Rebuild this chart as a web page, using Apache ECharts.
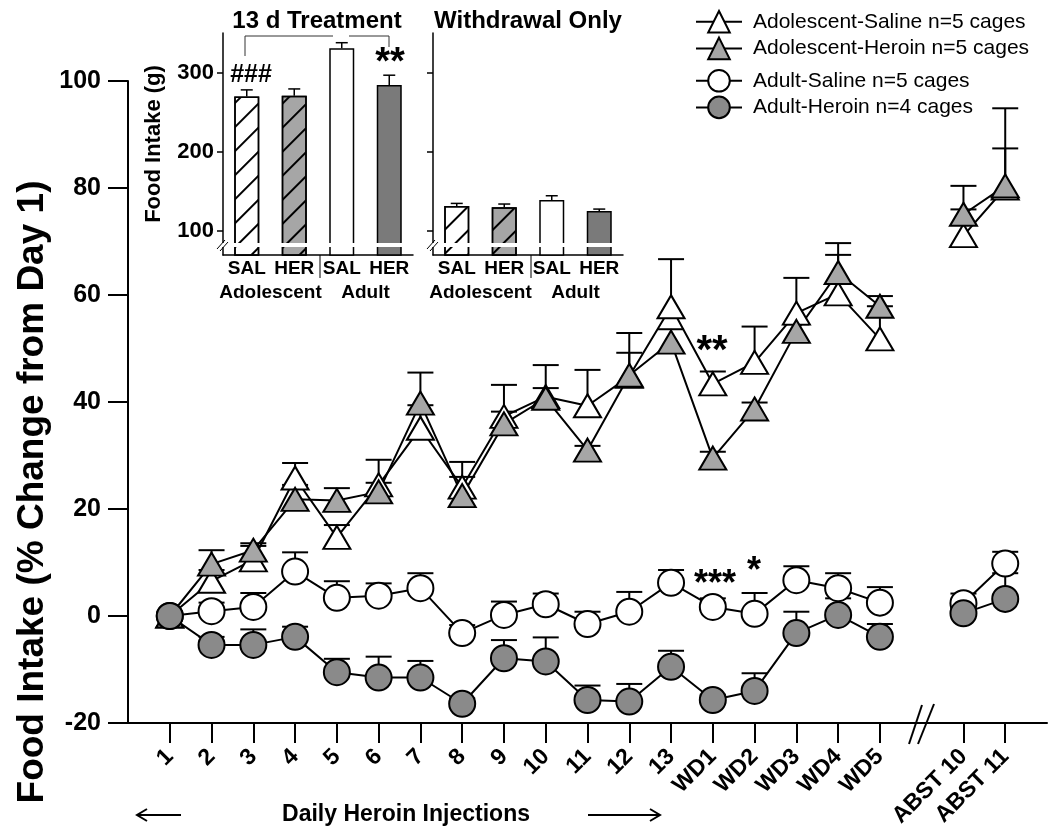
<!DOCTYPE html>
<html>
<head>
<meta charset="utf-8">
<script src="https://cdn.jsdelivr.net/npm/echarts@6/dist/echarts.min.js"></script>
<style>
  html, body { margin: 0; padding: 0; background: #fff; }
  #main { width: 1050px; height: 838px; }
</style>
</head>
<body>
<div id="main"></div>
<script>
var FONT = 'Liberation Sans, Arial, sans-serif';

// main plot: x labels
var dayLabels = ['1', '2', '3', '4', '5', '6', '7', '8', '9', '10', '11', '12', '13', 'WD1', 'WD2', 'WD3', 'WD4', 'WD5'];
var abstLabels = ['ABST 10', 'ABST 11'];

// % change from day 1 (mean) and upper error
var adolSal     = [0, 6.5, 10.5, 25.8, 14.7, 24.5, 35.1, 24.1, 37.3, 41, 39.3, 44.8, 57.8, 43.4, 47.4, 56.6, 60.2, 51.8, 71.1, 80];
var adolSalErr  = [0, 2.1, 2.6, 2.8, 2.3, 4.7, 4.3, 4.7, 5.9, 5.9, 6.7, 8.1, 8.9, 2.3, 6.7, 6.6, 7.3, 6.1, 4.9, 14.9];
var adolHer     = [0, 9.7, 12.3, 21.8, 21.6, 23.2, 39.8, 22.5, 35.9, 40.7, 31, 45, 51.2, 29.5, 38.7, 53.2, 64.2, 57.9, 75.1, 80.4];
var adolHerErr  = [0, 2.6, 1.3, 2.7, 2.3, 1.7, 5.7, 3.5, 2.3, 1.9, 0.8, 4.2, 2.4, 1.2, 1.2, 1.3, 5.5, 1.9, 5.3, 7];
var adultSal    = [0, 0.9, 1.7, 8.3, 3.4, 3.8, 5.2, -3.2, 0.2, 2.2, -1.5, 0.8, 6.2, 1.7, 0.4, 6.7, 5.2, 2.5, 2.4, 9.8];
var adultSalErr = [0, 1.6, 2.6, 3.6, 3.1, 2.3, 2.8, 1.5, 2.5, 2, 2.3, 3.7, 2.4, 1.6, 3.9, 2.6, 2.8, 2.9, 1.8, 2.2];
var adultHer    = [0, -5.4, -5.4, -3.9, -10.5, -11.5, -11.5, -16.4, -7.9, -8.5, -15.7, -16, -9.5, -15.7, -14, -3.2, 0.2, -3.9, 0.5, 3.2];
var adultHerErr = [0, 1.5, 2.9, 1.9, 2.5, 3.9, 3.1, 1, 3.4, 4.5, 2.7, 3.3, 3, 1, 3.3, 4, 3.1, 2.4, 1, 4.8];

// inset: total food intake (g)
var groups = ['SAL', 'HER', 'SAL', 'HER'];
var ages = ['Adolescent', 'Adult'];
var treatMean = [270.4, 271.6, 331.6, 285.2];
var treatErr  = [8.5, 8.5, 7.1, 12.3];
var wdMean    = [131.6, 130, 139.2, 125.3];
var wdErr     = [3.4, 4.2, 5.5, 2.5];
var insetTicks = [100, 200, 300];

var names = ['Adolescent-Saline n=5 cages', 'Adolescent-Heroin n=5 cages', 'Adult-Saline n=5 cages', 'Adult-Heroin n=4 cages'];

// category axis with one blank slot at each end and one for the axis break
var cats = [''].concat(dayLabels, [''], abstLabels, ['']);
function pos(i) { return i < dayLabels.length ? i + 1 : i + 2; }
function pad(vals) {
    var out = cats.map(function () { return null; });
    vals.forEach(function (v, i) { out[pos(i)] = v; });
    return out;
}
function errData(vals, errs) {
    return vals.map(function (v, i) { return [pos(i), v, errs[i]]; })
        .filter(function (d) { return d[2] > 0; });
}

function errRender(half, lw) {
    return function (params, api) {
        var x = api.value(0), m = api.value(1), e = api.value(2);
        var p0 = api.coord([x, m]);
        var p1 = api.coord([x, m + e]);
        var st = { stroke: '#000', lineWidth: lw };
        return {
            type: 'group',
            children: [
                { type: 'line', shape: { x1: p0[0], y1: p0[1], x2: p1[0], y2: p1[1] }, style: st },
                { type: 'line', shape: { x1: p1[0] - half, y1: p1[1], x2: p1[0] + half, y2: p1[1] }, style: st }
            ]
        };
    };
}

function errSeries(vals, errs) {
    return {
        type: 'custom', xAxisIndex: 0, yAxisIndex: 0,
        renderItem: errRender(13, 2),
        encode: { x: 0, y: 1 },
        data: errData(vals, errs),
        silent: true
    };
}

function lineSeries(name, vals, symbol, fill) {
    return {
        name: name, type: 'line', xAxisIndex: 0, yAxisIndex: 0,
        data: pad(vals),
        symbol: symbol,
        symbolSize: symbol === 'triangle' ? [27, 23] : 26,
        showSymbol: true,
        connectNulls: false,
        lineStyle: { color: '#000', width: 2 },
        itemStyle: { color: fill, borderColor: '#000', borderWidth: 2 },
        emphasis: { disabled: true }
    };
}

var hatch = {
    symbol: 'rect', symbolSize: 1,
    dashArrayX: [1, 0], dashArrayY: [1.5, 15],
    rotation: -Math.PI / 4, color: '#000'
};
var barFill = ['#ffffff', '#a6a6a6', '#ffffff', '#7a7a7a'];
var barHatch = [true, true, false, false];

function barSeries(vals, axis) {
    return {
        type: 'bar', xAxisIndex: axis, yAxisIndex: axis === 1 ? 1 : 2,
        barWidth: 25,
        data: vals.map(function (v, i) {
            var st = { color: barFill[i], borderColor: '#000', borderWidth: 1.5 };
            if (barHatch[i]) st.decal = hatch;
            return { value: v, itemStyle: st };
        }),
        silent: true
    };
}
function barErrSeries(vals, errs, axis) {
    return {
        type: 'custom', xAxisIndex: axis, yAxisIndex: axis === 1 ? 1 : 2,
        renderItem: errRender(6, 1.5),
        encode: { x: 0, y: 1 },
        data: vals.map(function (v, i) { return [i, v, errs[i]]; }),
        silent: true, z: 3
    };
}

var chart = echarts.init(document.getElementById('main'));

var labelFont = { color: '#000', fontFamily: FONT, fontWeight: 'bold' };
function txt(x, y, s, size, extra) {
    var o = {
        type: 'text', x: x, y: y, z: 100,
        style: { text: s, fontSize: size, fontWeight: 'bold', fontFamily: FONT, fill: '#000', align: 'center', verticalAlign: 'middle' }
    };
    if (extra) Object.assign(o, extra);
    return o;
}
function seg(x1, y1, x2, y2, w) {
    return { type: 'line', z: 100, shape: { x1: x1, y1: y1, x2: x2, y2: y2 }, style: { stroke: '#000', lineWidth: w || 2 } };
}

var insetX = function (grid, dataArr) {
    return {
        type: 'category', gridIndex: grid, data: dataArr,
        axisLine: { onZero: false, lineStyle: { color: '#000', width: 1.5 } },
        axisTick: { show: false },
        axisLabel: Object.assign({ fontSize: 19, margin: 4, interval: 0 }, labelFont)
    };
};
var insetAge = function (grid) {
    return {
        type: 'category', gridIndex: grid, data: ages, position: 'bottom', offset: 24,
        axisLine: { show: false, onZero: false }, axisTick: { show: false },
        axisLabel: Object.assign({ fontSize: 19, margin: 4, interval: 0 }, labelFont)
    };
};
var insetY = function (grid, showLabel) {
    var y = {
        type: 'value', gridIndex: grid, min: 69.6, max: 351,
        splitLine: { show: false },
        axisLine: { show: true, lineStyle: { color: '#000', width: 1.5 } },
        axisTick: { show: true, length: 6, customValues: insetTicks, lineStyle: { color: '#000', width: 1.5 } },
        axisLabel: Object.assign({ show: showLabel, fontSize: 22, margin: 9, customValues: insetTicks }, labelFont)
    };
    if (showLabel) {
        y.name = 'Food Intake (g)';
        y.nameLocation = 'middle';
        y.nameGap = 58;
        y.nameTextStyle = { fontSize: 22, fontWeight: 'bold', fontFamily: FONT, color: '#000' };
    }
    return y;
};

var legendBase = {
    orient: 'vertical', left: 690, itemWidth: 46, itemHeight: 27, selectedMode: false,
    textStyle: { fontSize: 21, color: '#000', fontFamily: FONT, padding: [0, 0, 0, 6] }
};

var option = {
    animation: false,
    backgroundColor: '#fff',
    grid: [
        { left: 128, right: 3, top: 81, bottom: 115 },
        { left: 223, top: 33, width: 190, height: 222 },
        { left: 433, top: 33, width: 190, height: 222 }
    ],
    legend: [
        Object.assign({}, legendBase, { data: names.slice(0, 2), top: 5, itemGap: 3 }),
        Object.assign({}, legendBase, { data: names.slice(2), top: 64, itemGap: 3 })
    ],
    xAxis: [
        {
            type: 'category', gridIndex: 0, data: cats, boundaryGap: false,
            axisLine: { onZero: false, lineStyle: { color: '#000', width: 2 } },
            axisTick: {
                length: 20, lineStyle: { color: '#000', width: 2 },
                interval: function (i, v) { return v !== ''; }
            },
            axisLabel: Object.assign({ interval: 0, rotate: 45, fontSize: 23, margin: 30 }, labelFont)
        },
        insetX(1, groups), insetAge(1),
        insetX(2, groups), insetAge(2)
    ],
    yAxis: [
        {
            type: 'value', gridIndex: 0, min: -20, max: 100, interval: 20,
            splitLine: { show: false },
            axisLine: { show: true, lineStyle: { color: '#000', width: 2 } },
            axisTick: { show: true, length: 20, lineStyle: { color: '#000', width: 2 } },
            axisLabel: Object.assign({ fontSize: 25, margin: 27 }, labelFont)
        },
        insetY(1, true),
        insetY(2, false)
    ],
    series: [
        errSeries(adolSal, adolSalErr),
        lineSeries(names[0], adolSal, 'triangle', '#ffffff'),
        errSeries(adolHer, adolHerErr),
        lineSeries(names[1], adolHer, 'triangle', '#a6a6a6'),
        errSeries(adultSal, adultSalErr),
        lineSeries(names[2], adultSal, 'circle', '#ffffff'),
        errSeries(adultHer, adultHerErr),
        lineSeries(names[3], adultHer, 'circle', '#8a8a8a'),
        barSeries(treatMean, 1),
        barErrSeries(treatMean, treatErr, 1),
        barSeries(wdMean, 3),
        barErrSeries(wdMean, wdErr, 3)
    ],
    graphic: [
        // main y title
        txt(33, 492, 'Food Intake (% Change from Day 1)', 37, { rotation: Math.PI / 2 }),
        // x footer
        txt(406, 815, 'Daily Heroin Injections', 23),
        seg(137, 815, 181, 815), { type: 'polyline', z: 100, shape: { points: [[147, 809], [137, 815], [147, 821]] }, style: { stroke: '#000', lineWidth: 2, fill: null } },
        seg(588, 815, 660, 815), { type: 'polyline', z: 100, shape: { points: [[650, 809], [660, 815], [650, 821]] }, style: { stroke: '#000', lineWidth: 2, fill: null } },
        // x axis break
        seg(909, 744, 922, 705), seg(918, 744, 934, 704),
        // significance marks
        txt(712, 352, '**', 40),
        txt(715, 585, '***', 36),
        txt(754, 572, '*', 36),
        // inset titles
        txt(317, 21, '13 d Treatment', 24),
        txt(528, 21, 'Withdrawal Only', 24),
        // bracket + marks
        { type: 'polyline', z: 100, shape: { points: [[245, 56], [245, 36], [333, 36]] }, style: { stroke: '#333', lineWidth: 1, fill: null } },
        { type: 'polyline', z: 100, shape: { points: [[349, 36], [389, 36], [389, 47]] }, style: { stroke: '#333', lineWidth: 1, fill: null } },
        txt(251, 75, '###', 25),
        txt(390, 64, '**', 38),
        // group separators
        seg(320, 255, 320, 278, 1), seg(531, 255, 531, 278, 1),
        // inset axis breaks
        { type: 'rect', z: 100, shape: { x: 219, y: 243, width: 196, height: 4 }, style: { fill: '#fff' } },
        { type: 'rect', z: 100, shape: { x: 429, y: 243, width: 196, height: 4 }, style: { fill: '#fff' } },
        seg(217, 249, 225, 240, 1), seg(220, 251, 228, 242, 1),
        seg(427, 249, 435, 240, 1), seg(430, 251, 438, 242, 1)
    ]
};

chart.setOption(option);
</script>
</body>
</html>
